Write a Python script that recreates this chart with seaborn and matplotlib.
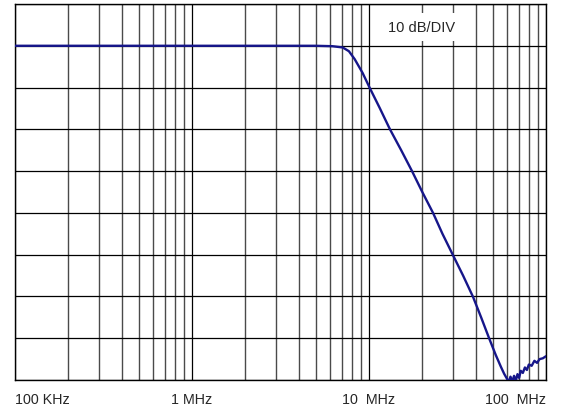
import matplotlib
matplotlib.use("Agg")
import matplotlib.pyplot as plt
import numpy as np
import pandas as pd
import seaborn as sns

# frequency response (Hz, dB)
freq_hz = [1e5, 3e5, 1e6, 3e6, 5e6, 6.2e6, 7.1e6, 7.7e6, 8.3e6, 9.2e6, 10.1e6,
           11.5e6, 13.1e6, 15.2e6, 17.5e6, 20e6, 23e6, 26e6, 29.8e6, 34e6,
           38.7e6, 43e6, 47.6e6, 52e6, 55.7e6, 58e6, 60e6, 61.5e6, 63e6,
           64.5e6, 66e6, 67.5e6, 69e6, 70.5e6, 72e6, 74e6, 76e6, 78e6, 80e6,
           83e6, 86e6, 89e6, 92e6, 96e6, 100e6]
gain_db = [0, 0, 0, 0, 0, -0.1, -0.4, -1.3, -3.2, -6.5, -10.1,
           -14.9, -19.9, -25.0, -30.0, -35.0, -40.0, -45.0, -50.1, -55.0,
           -60.1, -65.0, -69.9, -74.0, -76.9, -78.5, -79.6, -80.5, -79.2,
           -80.4, -79.0, -80.2, -78.6, -79.5, -77.8, -78.3, -77.0, -77.6, -76.3,
           -76.6, -75.4, -75.9, -75.0, -74.8, -74.3]

tick_freqs = [1e5, 1e6, 1e7, 1e8]
tick_labels = ["100 KHz", "1 MHz", "10  MHz", "100  MHz"]

df = pd.DataFrame({"freq": freq_hz, "gain": gain_db})

sns.set_style("white")
plt.rcParams["font.family"] = ["Liberation Sans", "DejaVu Sans"]

fig = plt.figure(figsize=(5.61, 4.14), dpi=100)
ax = fig.add_axes([15 / 561, 1 - 381 / 414, 531 / 561, 376 / 414])

sns.lineplot(data=df, x="freq", y="gain", ax=ax, color="#16168a",
             linewidth=1.7, zorder=5)

ax.set_xscale("log")
ax.set_xlim(1e5, 1e8)
ax.set_ylim(-80, 10)

ax.set_xticks(tick_freqs)
ax.set_xticklabels(tick_labels, fontsize=10.3)
labels = ax.get_xticklabels()
labels[0].set_horizontalalignment("left")
labels[0].set_x(0)
labels[-1].set_horizontalalignment("right")
ax.set_xticks([m * d for d in [1e5, 1e6, 1e7] for m in range(2, 10)], minor=True)
ax.set_yticks(np.arange(-80, 11, 10))
ax.set_yticklabels([])

ax.tick_params(axis="x", which="major", length=3, width=0.8, color="black",
               direction="out", pad=6)
ax.tick_params(axis="x", which="minor", length=0)
ax.tick_params(axis="y", length=3, width=0.8, color="black", direction="out")

ax.grid(True, which="major", axis="both", color="black", linewidth=0.9)
ax.grid(True, which="minor", axis="x", color="#4a4a4a", linewidth=1.0)
ax.set_axisbelow(True)

for s in ax.spines.values():
    s.set_color("black")
    s.set_linewidth(1.0)

ax.set_xlabel("")
ax.set_ylabel("")

ax.text(0.766, 0.94, "10 dB/DIV", transform=ax.transAxes, fontsize=10.5,
        ha="center", va="center", zorder=4,
        bbox=dict(facecolor="white", edgecolor="none", pad=5))

fig.savefig("out.png", dpi=100)
